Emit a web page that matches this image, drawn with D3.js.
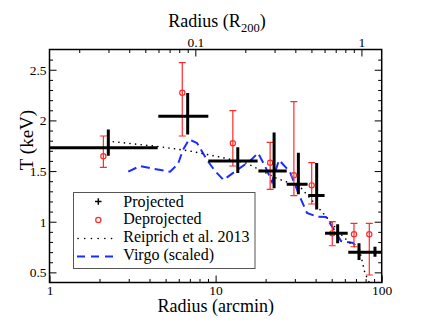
<!DOCTYPE html>
<html>
<head>
<meta charset="utf-8">
<script src="https://cdn.jsdelivr.net/npm/d3@7"></script>
<style>
  body { margin: 0; background: #fff; }
  svg { display: block; }
  svg text { font-family: "Liberation Serif", "Times New Roman", "DejaVu Serif", serif; }
</style>
</head>
<body>
<svg id="chart" width="430" height="332"></svg>
<script>
// projected temperatures (black crosses), radius in arcmin
var projR     = [2.26, 6.79, 13.6, 22.5, 31.5, 40.6, 54.3, 73.0, 91.1];
var projRLo   = [0.5, 4.52, 9.04, 18.1, 26.8, 36.1, 45.6, 62.9, 81.6];
var projRHi   = [4.48, 9.04, 17.9, 26.8, 35.8, 45.3, 62.4, 81.6, 110];
var projT     = [1.73, 2.04, 1.60, 1.50, 1.37, 1.26, 0.885, 0.698, 0.698];
var projTUp   = [1.91, 2.27, 1.735, 1.88, 1.68, 1.58, 0.974, 0.787, 0.753];
var projTDown = [1.65, 1.86, 1.48, 1.33, 1.27, 1.12, 0.787, 0.622, 0.654];

// deprojected temperatures (red circles)
var deprR     = [2.11, 6.30, 12.7, 21.3, 29.6, 37.9, 50.4, 68.1, 84.2];
var deprT     = [1.646, 2.274, 1.774, 1.583, 1.458, 1.359, 0.885, 0.876, 0.876];
var deprTUp   = [1.846, 2.570, 2.096, 1.784, 2.185, 1.583, 1.000, 0.984, 0.984];
var deprTDown = [1.537, 1.846, 1.550, 1.320, 1.257, 1.175, 0.763, 0.753, 0.474];

// Reiprich et al. 2013 profile
var reiR = [2.42, 4.63, 7.01, 11.1, 15.4, 23.3, 32.2, 44.5, 58.7, 74.0, 79.3, 85.0];
var reiT = [1.79, 1.74, 1.698, 1.632, 1.577, 1.429, 1.346, 1.083, 0.852, 0.704, 0.491, 0.385];

// Virgo (scaled)
var virgoR = [2.98, 3.51, 4.14, 5.32, 5.94, 6.36, 6.92, 7.73, 8.88, 9.92, 11.16, 13.45, 16.11, 18.0,
              19.83, 21.86, 24.08, 28.05, 32.2, 35.5, 40.8, 46.2, 50.9, 56.9, 61.8, 67.2, 74.0];
var virgoT = [1.494, 1.55, 1.525, 1.494, 1.57, 1.708, 1.812, 1.777, 1.609, 1.501, 1.412, 1.51, 1.599, 1.678,
              1.55, 1.392, 1.609, 1.491, 1.244, 1.086, 1.051, 1.046, 0.938, 0.809, 0.8, 0.79, 0.721];

var r200 = 75.5; // arcmin
var xTicks = [1, 10, 100];
var xTopTicks = [0.1, 1];
var yTicks = [0.5, 1, 1.5, 2, 2.5];
var legendLabels = ["Projected", "Deprojected", "Reiprich et al. 2013", "Virgo (scaled)"];

var serif = "'Liberation Serif', 'Times New Roman', 'DejaVu Serif', serif";
var svg = d3.select("#chart");
var pLeft = 49.5, pRight = 381.7, pTop = 49.5, pBottom = 282.5;

var x = d3.scaleLog().domain([1, 100]).range([pLeft, pRight]);
var xTop = d3.scaleLog().domain([1 / r200, 100 / r200]).range([pLeft, pRight]);
var y = d3.scaleLinear().domain([0.4, 2.7]).range([pBottom, pTop]);

var xMinor = [], xTopMinor = [], yMinor = [];
[1, 10].forEach(function(d) { for (var k = 2; k <= 9; k++) xMinor.push(d * k); });
[0.01, 0.1].forEach(function(d) {
  for (var k = 2; k <= 9; k++) { var v = d * k; if (v >= 1 / r200 && v <= 100 / r200) xTopMinor.push(v); }
});
for (var i = 5; i <= 26; i++) { if (i % 5 != 0) yMinor.push(i / 10); }

svg.append("defs").append("clipPath").attr("id", "clip")
  .append("rect").attr("x", pLeft).attr("y", pTop).attr("width", pRight - pLeft).attr("height", pBottom - pTop);

// series
var plot = svg.append("g").attr("clip-path", "url(#clip)");

var line = d3.line().x(function(d) { return x(d[0]); }).y(function(d) { return y(d[1]); });
plot.append("path")
  .datum(d3.zip(virgoR, virgoT))
  .attr("d", line)
  .attr("fill", "none").attr("stroke", "#1a2cff").attr("stroke-width", 2)
  .attr("stroke-dasharray", "9,5");

plot.append("path")
  .datum(d3.zip(reiR, reiT))
  .attr("d", line)
  .attr("fill", "none").attr("stroke", "#000").attr("stroke-width", 1.6)
  .attr("stroke-linecap", "round")
  .attr("stroke-dasharray", "0.1,5.5");

// deprojected
var dep = plot.append("g").selectAll("g")
  .data(deprR.map(function(r, i) { return {r: r, t: deprT[i], up: deprTUp[i], dn: deprTDown[i]}; }))
  .enter().append("g").attr("stroke", "#ff2a2a").attr("fill", "none").attr("stroke-width", 1.2);
dep.append("line")
  .attr("x1", function(d) { return x(d.r); }).attr("x2", function(d) { return x(d.r); })
  .attr("y1", function(d) { return y(d.up); }).attr("y2", function(d) { return y(d.dn); });
dep.append("line")
  .attr("x1", function(d) { return x(d.r) - 3.5; }).attr("x2", function(d) { return x(d.r) + 3.5; })
  .attr("y1", function(d) { return y(d.up); }).attr("y2", function(d) { return y(d.up); });
dep.append("line")
  .attr("x1", function(d) { return x(d.r) - 3.5; }).attr("x2", function(d) { return x(d.r) + 3.5; })
  .attr("y1", function(d) { return y(d.dn); }).attr("y2", function(d) { return y(d.dn); });
dep.append("circle")
  .attr("cx", function(d) { return x(d.r); }).attr("cy", function(d) { return y(d.t); })
  .attr("r", 2.6);

// projected
var proj = plot.append("g").selectAll("g")
  .data(projR.map(function(r, i) {
    return {r: r, lo: projRLo[i], hi: projRHi[i], t: projT[i], up: projTUp[i], dn: projTDown[i]};
  }))
  .enter().append("g").attr("stroke", "#000").attr("stroke-width", 3);
proj.append("line")
  .attr("x1", function(d) { return x(d.lo); }).attr("x2", function(d) { return x(d.hi); })
  .attr("y1", function(d) { return y(d.t); }).attr("y2", function(d) { return y(d.t); });
proj.append("line")
  .attr("x1", function(d) { return x(d.r); }).attr("x2", function(d) { return x(d.r); })
  .attr("y1", function(d) { return y(d.up); }).attr("y2", function(d) { return y(d.dn); });

// axes
function styleAxis(g) {
  g.attr("font-family", serif);
  g.select(".domain").remove();
  g.selectAll("line").attr("stroke", "#000").attr("stroke-width", 1);
  g.selectAll("text").attr("font-size", "13.5px").attr("font-family", serif).attr("fill", "#000");
}

svg.append("g").attr("transform", "translate(0," + pBottom + ")")
  .call(d3.axisBottom(x).tickValues(xTicks).tickSize(-7).tickPadding(3).tickFormat(d3.format("d")))
  .call(styleAxis);
svg.append("g").attr("transform", "translate(0," + pBottom + ")")
  .call(d3.axisBottom(x).tickValues(xMinor).tickSize(-3.5).tickFormat(""))
  .call(styleAxis);

svg.append("g").attr("transform", "translate(0," + pTop + ")")
  .call(d3.axisTop(xTop).tickValues(xTopTicks).tickSize(-7).tickPadding(3).tickFormat(d3.format("")))
  .call(styleAxis);
svg.append("g").attr("transform", "translate(0," + pTop + ")")
  .call(d3.axisTop(xTop).tickValues(xTopMinor).tickSize(-3.5).tickFormat(""))
  .call(styleAxis);

svg.append("g").attr("transform", "translate(" + pLeft + ",0)")
  .call(d3.axisLeft(y).tickValues(yTicks).tickSize(-7).tickPadding(3).tickFormat(d3.format("")))
  .call(styleAxis);
svg.append("g").attr("transform", "translate(" + pLeft + ",0)")
  .call(d3.axisLeft(y).tickValues(yMinor).tickSize(-3.5).tickFormat(""))
  .call(styleAxis);
svg.append("g").attr("transform", "translate(" + pRight + ",0)")
  .call(d3.axisRight(y).tickValues(yTicks).tickSize(-7).tickFormat(""))
  .call(styleAxis);
svg.append("g").attr("transform", "translate(" + pRight + ",0)")
  .call(d3.axisRight(y).tickValues(yMinor).tickSize(-3.5).tickFormat(""))
  .call(styleAxis);

svg.append("rect")
  .attr("x", pLeft).attr("y", pTop).attr("width", pRight - pLeft).attr("height", pBottom - pTop)
  .attr("fill", "none").attr("stroke", "#000").attr("stroke-width", 1.5);

// titles
svg.append("text").attr("x", 215.8).attr("y", 311.5).attr("text-anchor", "middle")
  .attr("font-family", serif).attr("font-size", "18px").text("Radius (arcmin)");

var topTitle = svg.append("text").attr("x", 217).attr("y", 27).attr("text-anchor", "middle")
  .attr("font-family", serif).attr("font-size", "18px");
topTitle.append("tspan").text("Radius (R");
topTitle.append("tspan").attr("font-size", "12.5px").attr("dy", 5).text("200");
topTitle.append("tspan").attr("dy", -5).text(")");

svg.append("text").attr("transform", "translate(33,140) rotate(-90)").attr("text-anchor", "middle")
  .attr("font-family", serif).attr("font-size", "19px").text("T (keV)");

// legend
var lg = svg.append("g");
lg.append("rect").attr("x", 73.5).attr("y", 192.5).attr("width", 181.5).attr("height", 76)
  .attr("fill", "#fff").attr("stroke", "#555").attr("stroke-width", 1);
var rowY = [206.5, 224.3, 242.2, 260];
lg.selectAll("text.lab").data(legendLabels).enter().append("text")
  .attr("x", 123.3).attr("y", function(d, i) { return rowY[i]; })
  .attr("font-family", serif).attr("font-size", "16px").text(function(d) { return d; });
lg.append("line").attr("x1", 95).attr("x2", 101.5).attr("y1", 201.5).attr("y2", 201.5)
  .attr("stroke", "#000").attr("stroke-width", 1.5);
lg.append("line").attr("x1", 98.3).attr("x2", 98.3).attr("y1", 198.3).attr("y2", 204.8)
  .attr("stroke", "#000").attr("stroke-width", 1.5);
lg.append("circle").attr("cx", 98.3).attr("cy", 220).attr("r", 2.6)
  .attr("fill", "none").attr("stroke", "#ff2a2a").attr("stroke-width", 1.2);
lg.append("line").attr("x1", 78).attr("x2", 114).attr("y1", 238.5).attr("y2", 238.5)
  .attr("stroke", "#000").attr("stroke-width", 1.6).attr("stroke-linecap", "round")
  .attr("stroke-dasharray", "0.1,6.6");
lg.append("line").attr("x1", 77).attr("x2", 114).attr("y1", 256.5).attr("y2", 256.5)
  .attr("stroke", "#1a2cff").attr("stroke-width", 2).attr("stroke-dasharray", "8,6");
</script>
</body>
</html>
